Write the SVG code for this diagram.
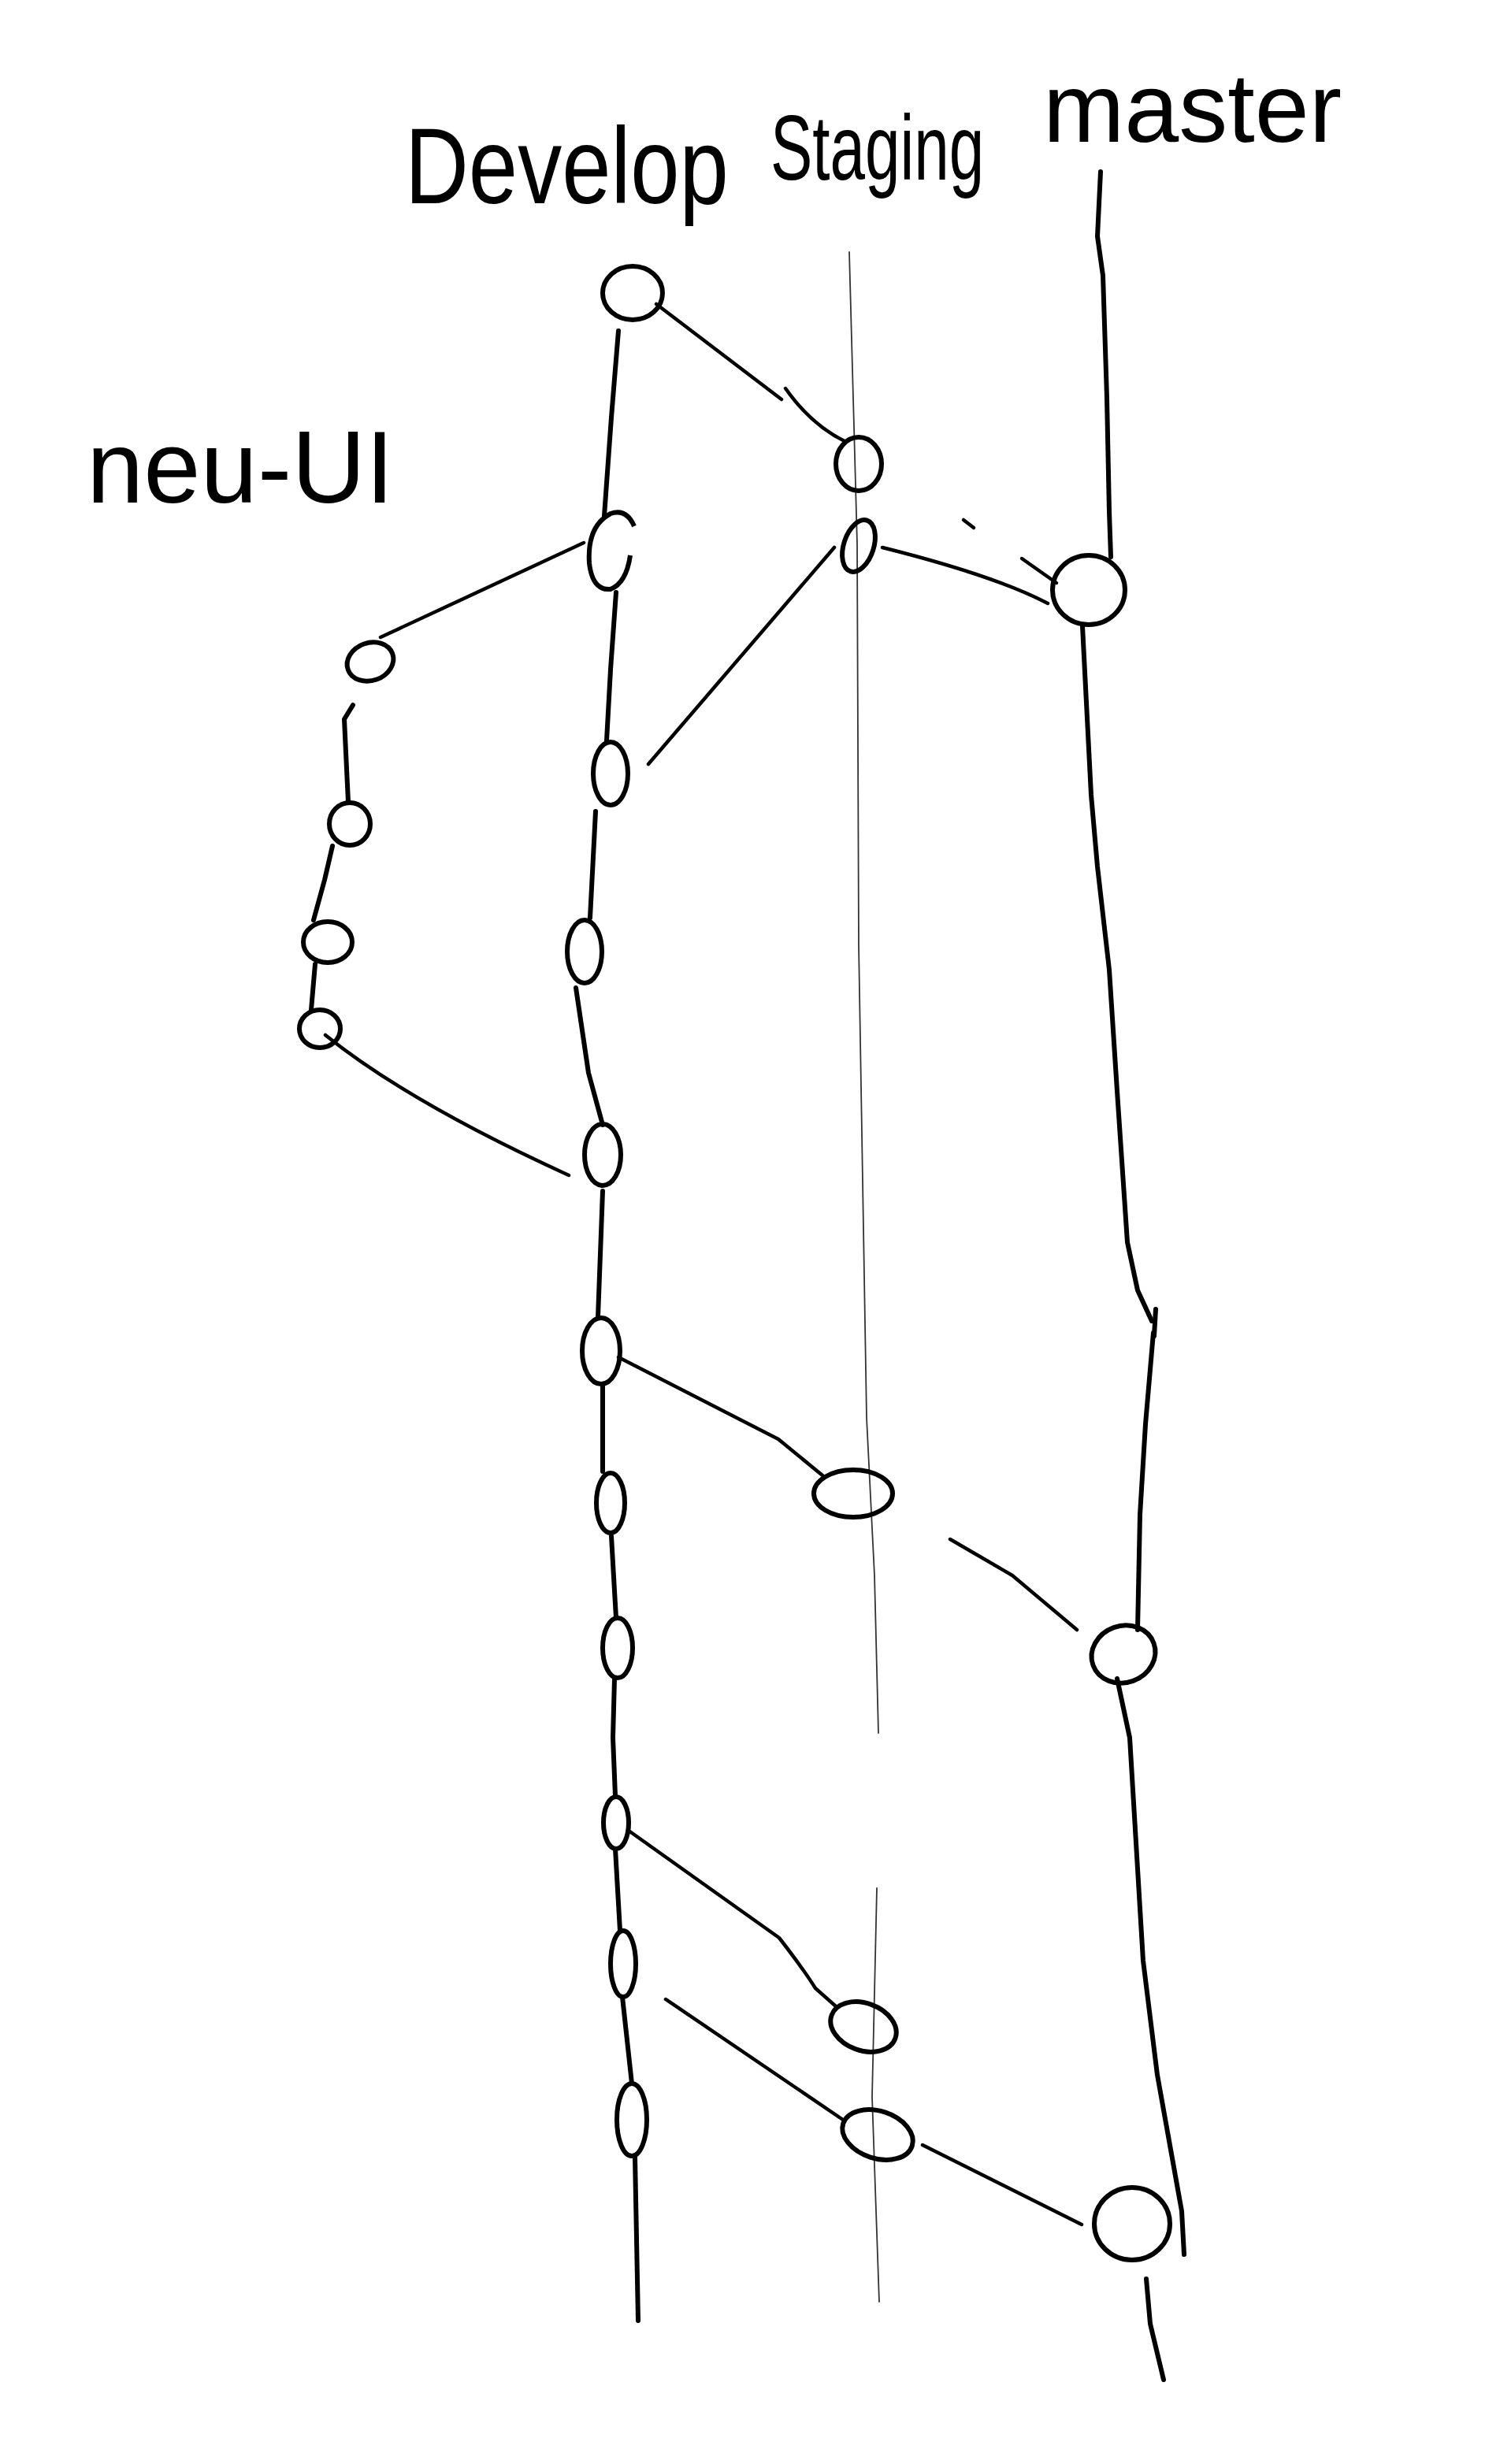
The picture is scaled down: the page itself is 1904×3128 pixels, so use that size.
<svg xmlns="http://www.w3.org/2000/svg" width="1904" height="3128" viewBox="0 0 1904 3128">
<style>
.lbl{font-family:"Liberation Sans","DejaVu Sans",sans-serif;fill:#000}
.node{fill:none;stroke:#000;stroke-width:6}
.br{fill:none;stroke:#000;stroke-width:6;stroke-linecap:round;stroke-linejoin:round}
.ed{fill:none;stroke:#000;stroke-width:4.5;stroke-linecap:round;stroke-linejoin:round}
.thin{fill:none;stroke:#333;stroke-width:1.8;stroke-linecap:round}
</style>
<rect width="1904" height="3128" fill="#fff"/>
<g id="labels">
<text class="lbl" transform="translate(514,258) scale(1,1.22)" font-size="112">Develop</text>
<text class="lbl" transform="translate(978,228) scale(1,1.45)" font-size="80">Staging</text>
<text class="lbl" transform="translate(1324,180)" font-size="124">master</text>
<text class="lbl" x="110" y="638" font-size="130">neu-UI</text>
</g>
<g id="connectors">
<!-- staging branch line -->
<path class="thin" d="M1078,320 L1088,690 L1090,1200 L1100,1800 L1110,2000 L1115,2200"/>
<path class="thin" d="M1113,2397 L1107,2662 L1116,2922"/>
<!-- develop branch line -->
<path class="br" d="M785,420 L776,530 L767,655"/>
<path class="br" d="M782,752 L775,850 L770,940"/>
<path class="br" d="M756,1030 L749,1165"/>
<path class="br" d="M731,1254 L747,1362 L765,1428"/>
<path class="br" d="M765,1512 L759,1672"/>
<path class="br" d="M765,1758 L765,1868"/>
<path class="br" d="M776,1950 L782,2054"/>
<path class="br" d="M780,2131 L778,2206 L781,2280"/>
<path class="br" d="M781,2347 L787,2451"/>
<path class="br" d="M790,2535 L802,2645"/>
<path class="br" d="M806,2738 L810,2946"/>
<!-- master branch line -->
<path class="br" d="M1397,218 L1393,300 L1400,350 L1405,505 L1408,650 L1410,707"/>
<path class="br" d="M1374,795 L1385,1009 L1393,1100 L1408,1231 L1418,1385 L1431,1577 L1444,1638 L1462,1677"/>
<path class="br" d="M1467,1662 L1465,1696"/>
<path class="br" d="M1464,1692 L1454,1808 L1447,1923 L1444,2069"/>
<path class="br" d="M1418,2131 L1434,2206 L1451,2489 L1469,2634 L1500,2807 L1503,2862"/>
<path class="br" d="M1455,2893 L1460,2950 L1477,3021"/>
<!-- neu-UI branch line -->
<path class="br" d="M448,895 L437,913 L442,1018"/>
<path class="br" d="M422,1074 L412,1117 L398,1168"/>
<path class="br" d="M400,1224 L395,1282"/>
<!-- merges and branches -->
<path class="ed" d="M833,386 L992,507"/>
<path class="ed" d="M997,493 Q1030,540 1074,561"/>
<path class="ed" d="M1059,695 L823,970"/>
<path class="ed" d="M1120,695 C1200,715 1280,740 1330,766"/>
<path class="ed" d="M1223,660 L1236,670"/>
<path class="ed" d="M1297,709 L1341,740"/>
<path class="ed" d="M741,689 L483,809"/>
<path class="ed" d="M413,1314 Q520,1400 722,1492"/>
<path class="ed" d="M785,1723 L988,1827 L1044,1873"/>
<path class="ed" d="M1206,1954 L1285,2000 L1367,2069"/>
<path class="ed" d="M798,2324 L989,2460 Q1020,2500 1035,2524 L1061,2547"/>
<path class="ed" d="M845,2538 L1070,2691"/>
<path class="ed" d="M1171,2723 L1373,2824"/>
</g>
<g id="develop-nodes">
<g id="d1"><ellipse class="node" cx="803" cy="372" rx="38" ry="34"/></g>
<g id="d2"><path class="node" d="M805,668 Q795,645 775,652 Q745,668 748,715 Q752,750 775,748 Q795,740 800,705"/></g>
<g id="d3"><ellipse class="node" cx="775" cy="982" rx="22" ry="40"/></g>
<g id="d4"><ellipse class="node" cx="742" cy="1208" rx="22" ry="40"/></g>
<g id="d5"><ellipse class="node" cx="765" cy="1466" rx="23" ry="39"/></g>
<g id="d6"><ellipse class="node" cx="763" cy="1715" rx="24" ry="42"/></g>
<g id="d7"><ellipse class="node" cx="775" cy="1908" rx="18" ry="38"/></g>
<g id="d8"><ellipse class="node" cx="784" cy="2092" rx="19" ry="38"/></g>
<g id="d9"><ellipse class="node" cx="782" cy="2314" rx="16" ry="33"/></g>
<g id="d10"><ellipse class="node" cx="791" cy="2493" rx="16" ry="42"/></g>
<g id="d11"><ellipse class="node" cx="802" cy="2691" rx="19" ry="46"/></g>
</g>
<g id="staging-nodes">
<g id="s1"><ellipse class="node" cx="1090" cy="589" rx="29" ry="34"/></g>
<g id="s2"><ellipse class="node" cx="1090" cy="693" rx="19" ry="34" transform="rotate(18 1090 693)"/></g>
<g id="s3"><ellipse class="node" cx="1083" cy="1896" rx="50" ry="30"/></g>
<g id="s4"><ellipse class="node" cx="1096" cy="2573" rx="43" ry="30" transform="rotate(20 1096 2573)"/></g>
<g id="s5"><ellipse class="node" cx="1114" cy="2710" rx="46" ry="30" transform="rotate(18 1114 2710)"/></g>
</g>
<g id="master-nodes">
<g id="m1"><ellipse class="node" cx="1382" cy="749" rx="46" ry="44"/></g>
<g id="m2"><ellipse class="node" cx="1426" cy="2100" rx="41" ry="36" transform="rotate(-20 1426 2100)"/></g>
<g id="m3"><ellipse class="node" cx="1437" cy="2823" rx="48" ry="46"/></g>
</g>
<g id="neu-ui-nodes">
<g id="n1"><ellipse class="node" cx="470" cy="840" rx="30" ry="24" transform="rotate(-20 470 840)"/></g>
<g id="n2"><ellipse class="node" cx="444" cy="1046" rx="26" ry="27"/></g>
<g id="n3"><ellipse class="node" cx="416" cy="1196" rx="31" ry="26"/></g>
<g id="n4"><ellipse class="node" cx="406" cy="1306" rx="26" ry="24"/></g>
</g>
</svg>
